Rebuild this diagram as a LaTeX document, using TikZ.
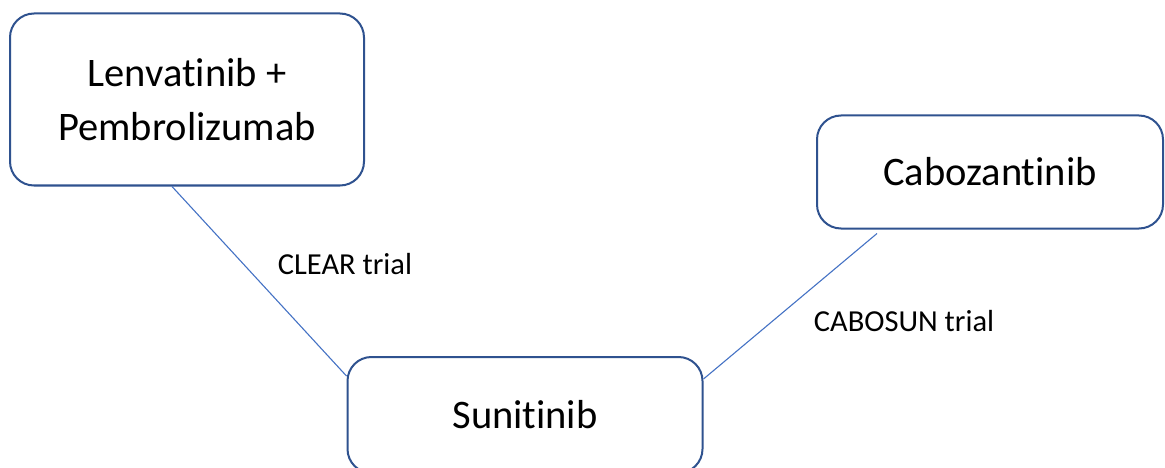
\documentclass[tikz,border=0pt]{standalone}
\usepackage{fontspec}
\setmainfont{Carlito}[Ligatures=NoCommon]
\usetikzlibrary{calc}
\definecolor{boxline}{HTML}{2F528F}
\definecolor{conline}{HTML}{4472C4}
\begin{document}
\begin{tikzpicture}[x=1pt,y=-1pt,
  drug/.style={draw=boxline, line width=2pt, rounded corners=24pt, fill=white,
    align=center, inner sep=0pt, font=\fontsize{40.5}{54}\selectfont},
  con/.style={draw=conline, line width=1.1pt},
  trial/.style={inner sep=0pt, font=\fontsize{30.5}{36}\selectfont}]
\useasboundingbox (0,0) rectangle (1165,468);
\node[drug, minimum width=354pt, minimum height=172pt] (len) at (187,99.5) {Lenvatinib +\\Pembrolizumab};
\node[drug, minimum width=346pt, minimum height=113pt] (cab) at (990,172) {Cabozantinib};
\node[drug, minimum width=355pt, minimum height=116pt] (sun) at (525,415) {Sunitinib};
\draw[con] ([xshift=163pt]len.south west) -- ([yshift=-20pt]sun.north west);
\draw[con] ([xshift=61pt,yshift=-4pt]cab.south west) -- ([yshift=-23pt]sun.north east);
\node[trial] (clear) at (345,264) {CLEAR trial};
\node[trial] (cabosun) at (904,321) {CABOSUN trial};
\end{tikzpicture}
\end{document}
